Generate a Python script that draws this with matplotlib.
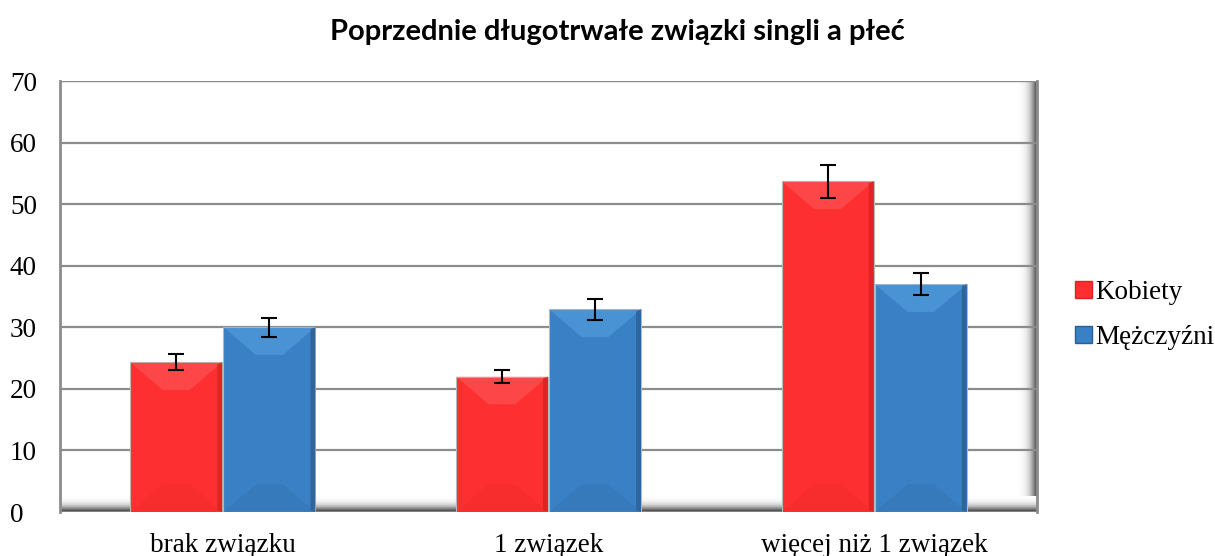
import numpy as np
import matplotlib
matplotlib.use('Agg')
import matplotlib.pyplot as plt
from matplotlib.patches import Polygon, Patch

# Data
categories = ['brak związku', '1 związek', 'więcej niż 1 związek']
kobiety = [24.3, 22.0, 53.7]
kobiety_err = [1.3, 1.1, 2.7]
mezczyzni = [30.0, 32.9, 37.0]
mezczyzni_err = [1.5, 1.7, 1.8]
series_names = ['Kobiety', 'Mężczyźni']
yticks = [0, 10, 20, 30, 40, 50, 60, 70]

red = '#fd2f30'
red_light = '#ff6a6a'
red_dark = '#d92222'
blue = '#3a80c4'
blue_light = '#62aeee'
blue_dark = '#2a5f96'

fig = plt.figure(figsize=(12.15, 5.56), dpi=100)
ax = fig.add_axes([60 / 1215, 44 / 556, 977 / 1215, 431 / 556])

x = np.arange(len(categories))
width = 0.282

ax.set_xlim(-0.5, 2.5)
ax.set_ylim(0, 70)

# floor and right wall gradients (3D look)
grad = (np.linspace(1, 0, 60) ** 2.0).reshape(-1, 1)
ax.imshow(grad, extent=(-0.5, 2.5, 0, 2.6), origin='lower', cmap='Greys',
          vmin=0, vmax=1.15, aspect='auto', zorder=0.5)
gradw = (np.linspace(0, 1, 60) ** 2.0).reshape(1, -1)
ax.imshow(gradw, extent=(2.44, 2.5, 2.6, 70), cmap='Greys', vmin=0, vmax=1.3,
          aspect='auto', zorder=0.5)
ax.set_aspect('auto')

# gridlines
for t in yticks[1:]:
    ax.axhline(t, color='#8c8c8c', lw=1.6, zorder=1)


def draw_bars(xs, vals, errs, c, cl, cd):
    bars = ax.bar(xs, vals, width, color=c, edgecolor='#b8b8b8', linewidth=0.8, zorder=2)
    dx = 0.1
    dy = 4.5
    for b in bars:
        x0 = b.get_x()
        x1 = x0 + b.get_width()
        h = b.get_height()
        d = min(dy, h / 2)
        # top bevel
        ax.add_patch(Polygon([[x0, h], [x1, h], [x1 - dx, h - d], [x0 + dx, h - d]],
                             closed=True, color=cl, alpha=0.4, lw=0, zorder=2.1))
        # bottom bevel
        ax.add_patch(Polygon([[x0, 0], [x1, 0], [x1 - dx, d], [x0 + dx, d]],
                             closed=True, color=cd, alpha=0.18, lw=0, zorder=2.1))
        # right shading
        ax.add_patch(Polygon([[x1, 0], [x1, h], [x1 - 0.015, h - 0.3], [x1 - 0.015, 0.3]],
                             closed=True, color=cd, alpha=0.8, lw=0, zorder=2.2))
    ax.errorbar(xs, vals, yerr=errs, fmt='none', ecolor='black', elinewidth=1.5,
                capsize=6, capthick=1.5, zorder=3)


draw_bars(x - width / 2 - 0.002, kobiety, kobiety_err, red, red_light, red_dark)
draw_bars(x + width / 2 + 0.002, mezczyzni, mezczyzni_err, blue, blue_light, blue_dark)

# frame
for s in ['top', 'bottom']:
    ax.spines[s].set_visible(False)
ax.axhline(70, color='#8c8c8c', lw=1.6, zorder=1)
ax.axhline(0, color='#8c8c8c', lw=2, zorder=1)
ax.spines['left'].set_color('#8c8c8c')
ax.spines['left'].set_linewidth(2)
ax.spines['right'].set_color('#8c8c8c')
ax.spines['right'].set_linewidth(2)

ax.set_yticks(yticks)
ax.set_xticks(x)
ax.set_xticklabels(categories)
ax.tick_params(length=0, labelsize=19.5, pad=15)
ax.tick_params(axis='y', pad=36)
for lab in ax.get_xticklabels() + ax.get_yticklabels():
    lab.set_fontfamily('Liberation Serif')
for lab in ax.get_yticklabels():
    lab.set_horizontalalignment('left')

fig.text(0.508, 0.942, 'Poprzednie długotrwałe związki singli a płeć',
         ha='center', va='center', fontsize=21, fontweight='bold', family='Lato')

handles = [Patch(facecolor=red, edgecolor=red_dark), Patch(facecolor=blue, edgecolor=blue_dark)]
fig.legend(handles, series_names, loc='center left', bbox_to_anchor=(0.885, 0.433),
           frameon=False, prop={'family': 'Liberation Serif', 'size': 19.5},
           handlelength=0.6, handleheight=0.6, handletextpad=0.15, labelspacing=0.75,
           borderpad=0, borderaxespad=0)

fig.savefig('out.png', dpi=100)
